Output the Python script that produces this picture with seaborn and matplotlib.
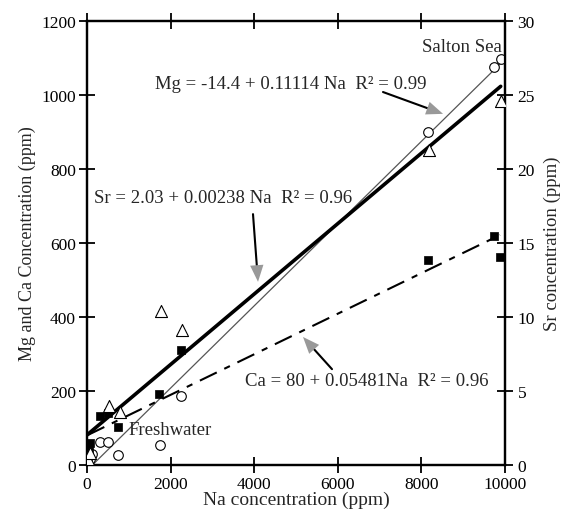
import matplotlib
matplotlib.use("Agg")
import matplotlib.pyplot as plt
import seaborn as sns

# Mg (circles, left axis)
mg_na = [0, 20, 60, 112, 311, 495, 734, 1746, 2241, 8165, 9737, 9897]
mg = [3, 8, 15, 30, 63, 63, 28, 55, 186, 901, 1075, 1097]

# Ca (squares, left axis)
ca_na = [10, 30, 50, 72, 311, 510, 742, 1730, 2241, 8165, 9737, 9880]
ca = [15, 25, 40, 60, 132, 140, 102, 192, 312, 555, 620, 561]

# Sr (triangles, right axis)
sr_na = [0, 30, 60, 526, 800, 1763, 2265, 8189, 9897]
sr = [0.1, 0.4, 0.8, 4.0, 3.6, 10.4, 9.1, 21.3, 24.6]

# regression equations shown on the chart: (intercept, slope)
mg_fit = (-14.4, 0.11114)
sr_fit = (2.03, 0.00238)
ca_fit = (80, 0.05481)

sns.set_style("ticks")
plt.rcParams["font.family"] = ["Liberation Serif", "DejaVu Serif"]
plt.rcParams["font.size"] = 12

fig = plt.figure(figsize=(5.74, 5.10), dpi=100)
ax = fig.add_axes([0.1516, 0.0863, 0.7282, 0.8706])
ax2 = ax.twinx()

def fit_line(na, fit):
    xs = [min(na), max(na)]
    return xs, [fit[0] + fit[1] * v for v in xs]

# regression lines
x, y = fit_line(mg_na, mg_fit)
sns.lineplot(x=x, y=y, ax=ax, color="#555555", lw=0.9)
x, y = fit_line(ca_na, ca_fit)
sns.lineplot(x=x, y=y, ax=ax, color="black", lw=1.5)
ax.lines[-1].set_dashes([9, 4, 3, 4])
x, y = fit_line(sr_na, sr_fit)
sns.lineplot(x=x, y=y, ax=ax2, color="black", lw=2.6)

# points
sns.scatterplot(x=mg_na, y=mg, ax=ax, marker="o", s=48, facecolor="white",
                edgecolor="black", linewidth=0.8, zorder=3)
sns.scatterplot(x=ca_na, y=ca, ax=ax, marker="s", s=28, color="black",
                edgecolor="black", linewidth=0.5, zorder=3)
sns.scatterplot(x=sr_na, y=sr, ax=ax2, marker="^", s=75, facecolor="white",
                edgecolor="black", linewidth=0.8, zorder=3)

ax.set_xlim(0, 10000)
ax.set_ylim(0, 1200)
ax2.set_ylim(0, 30)
ax.set_xticks(range(0, 10001, 2000))
ax.set_yticks(range(0, 1201, 200))
ax2.set_yticks(range(0, 31, 5))

for a in (ax, ax2):
    for s in a.spines.values():
        s.set_visible(True)
        s.set_linewidth(1.6)
        s.set_color("black")
ax.tick_params(axis="both", direction="inout", length=12, width=1.3,
               labelsize=12.5, colors="black", top=True, pad=2)
ax2.tick_params(axis="y", direction="inout", length=12, width=1.3,
                labelsize=12.5, colors="black", pad=3)

ax.set_xlabel("Na concentration (ppm)", fontsize=14, labelpad=-1)
ax.set_ylabel("Mg and Ca Concentration (ppm)", fontsize=13, labelpad=4)
ax2.set_ylabel("Sr concentration (ppm)", fontsize=13.5, labelpad=6)

# equation labels
fs = 13.5
ax.text(4880, 1030, "Mg = -14.4 + 0.11114 Na  R² = 0.99", ha="center", va="center", fontsize=fs)
ax.text(3254, 724, "Sr = 2.03 + 0.00238 Na  R² = 0.96", ha="center", va="center", fontsize=fs)
ax.text(6699, 227, "Ca = 80 + 0.05481Na  R² = 0.96", ha="center", va="center", fontsize=fs)
ax.text(1986, 97, "Freshwater", ha="center", va="center", fontsize=fs)
ax.text(8971, 1132, "Salton Sea", ha="center", va="center", fontsize=fs)

# arrows: black shaft with grey head
arrows = [((7081, 1008), (8517, 949)),
          ((3971, 678), (4091, 495)),
          ((5861, 259), (5167, 346))]
for start, tip in arrows:
    base = (tip[0] + 0.24 * (start[0] - tip[0]), tip[1] + 0.24 * (start[1] - tip[1]))
    ax.annotate("", xy=base, xytext=start,
                arrowprops=dict(arrowstyle="-", color="black", lw=1.5, shrinkA=0, shrinkB=0))
    ax.annotate("", xy=tip, xytext=base,
                arrowprops=dict(arrowstyle="-|>,head_length=1.0,head_width=0.4",
                                color="#999999", lw=0, shrinkA=0, shrinkB=0))

fig.savefig("out.png", dpi=100)
